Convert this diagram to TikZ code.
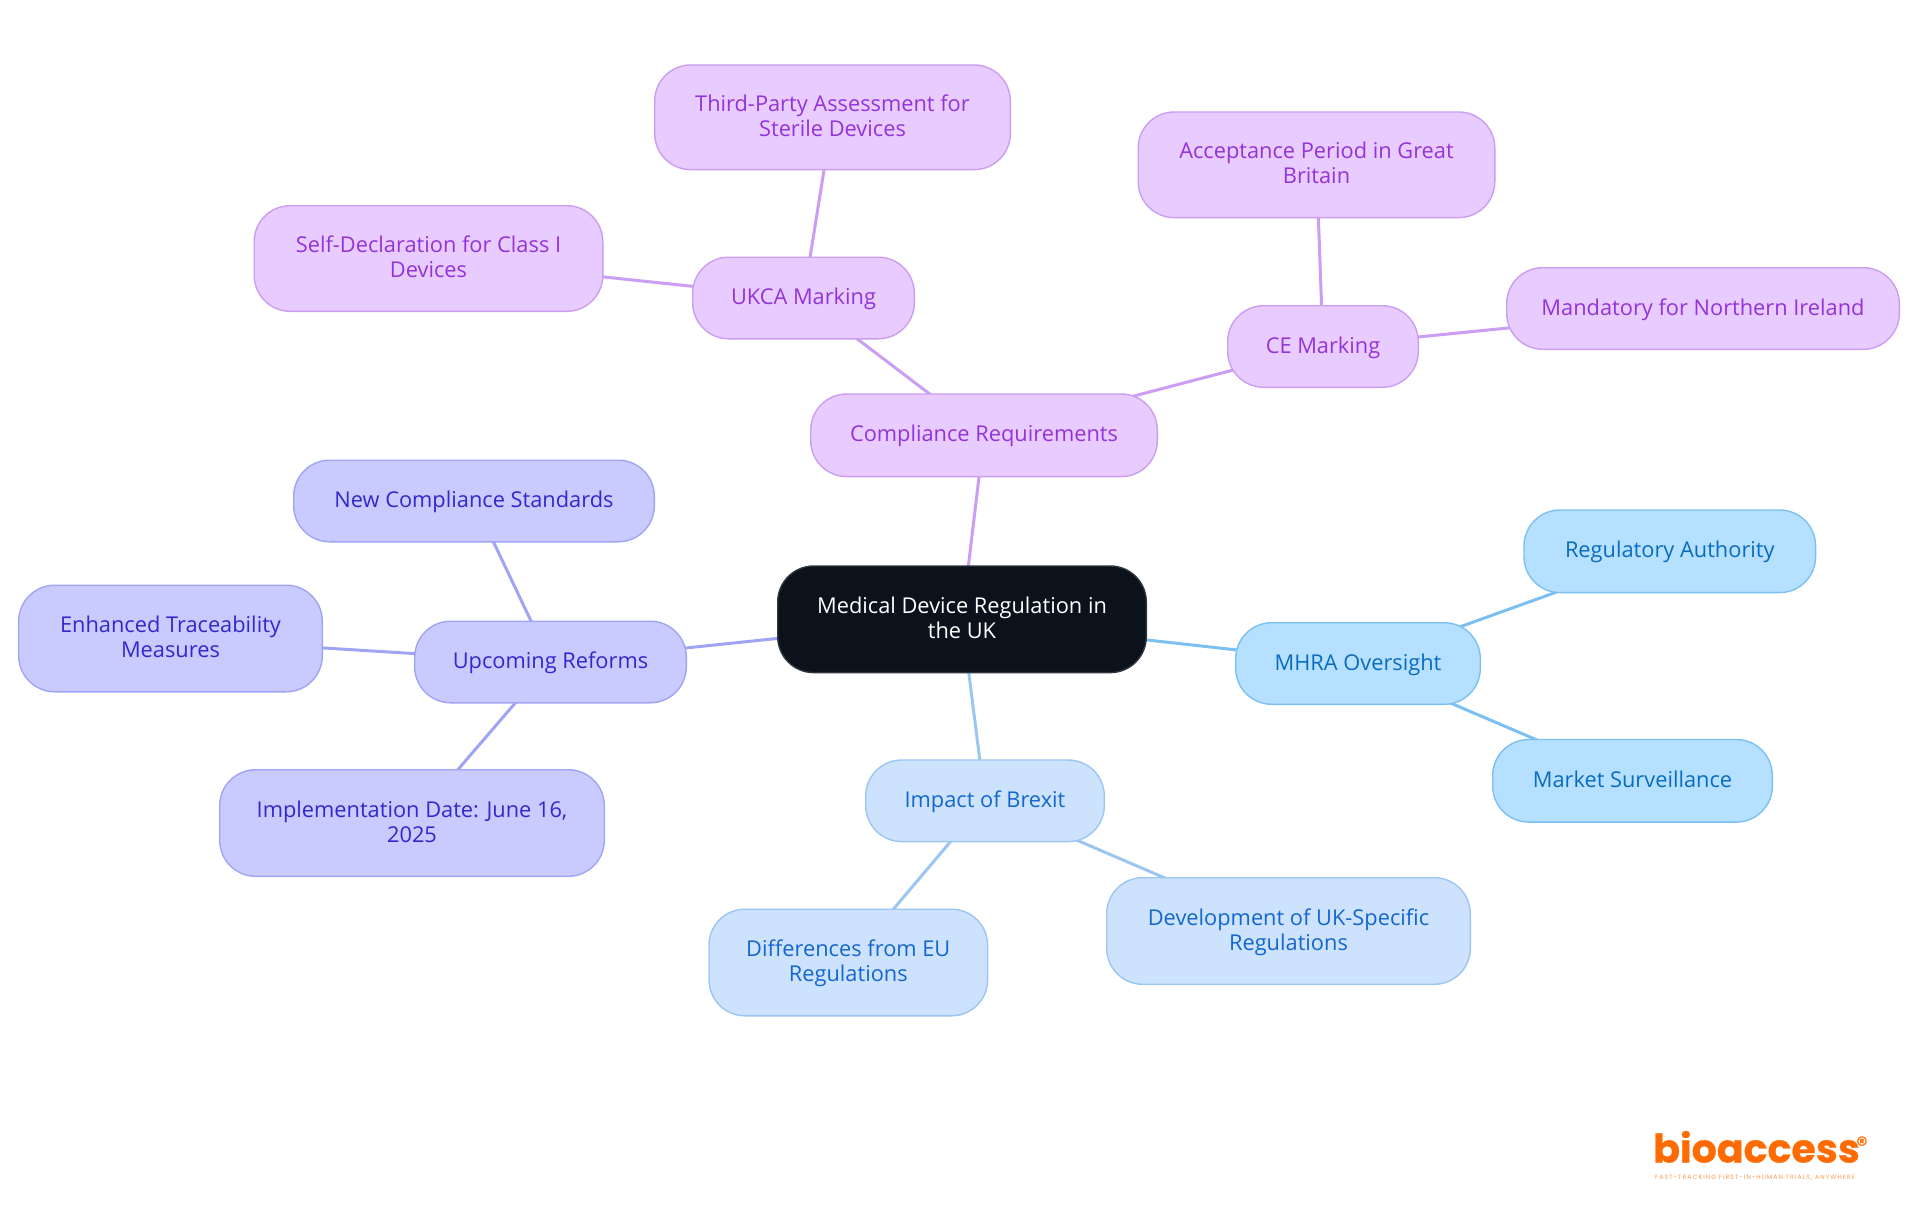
\documentclass[tikz,border=0pt]{standalone}
\usepackage{xcolor}
\usepackage{fontspec}
\usetikzlibrary{positioning,backgrounds}
\setmainfont{Open Sans}
\newfontfamily\logofont{Poppins}

\definecolor{rootfill}{HTML}{0B121B}
\definecolor{purplefill}{HTML}{E8CCFF}
\definecolor{purpleline}{HTML}{CB9DF3}
\definecolor{purpletext}{HTML}{9333D9}
\definecolor{indigofill}{HTML}{C9CBFF}
\definecolor{indigoline}{HTML}{A0A4F5}
\definecolor{indigotext}{HTML}{3228CC}
\definecolor{skyfill}{HTML}{B5E0FF}
\definecolor{skyline}{HTML}{7CC0F3}
\definecolor{skytext}{HTML}{0A6CBE}
\definecolor{bluefill}{HTML}{CDE3FD}
\definecolor{blueline}{HTML}{9CC5F2}
\definecolor{bluetext}{HTML}{1466D0}
\definecolor{logoorange}{HTML}{FF6B00}

% every line of a box gets the same height and depth
\newcommand{\ls}{\rule[-6pt]{0pt}{25pt}}

\tikzset{
  mapnode/.style={draw,rounded corners=36pt,inner sep=0pt,align=center,line width=1.4pt,
    font=\fontsize{21.8}{25}\selectfont},
  rootnode/.style={mapnode,fill=rootfill,draw=rootfill!85!white,text=white},
  purplenode/.style={mapnode,fill=purplefill,draw=purpleline,text=purpletext},
  indigonode/.style={mapnode,fill=indigofill,draw=indigoline,text=indigotext},
  skynode/.style={mapnode,fill=skyfill,draw=skyline,text=skytext},
  bluenode/.style={mapnode,fill=bluefill,draw=blueline,text=bluetext},
  maplink/.style={line width=3pt}
}

\begin{document}
\begin{tikzpicture}[x=1pt,y=-1pt]
  \useasboundingbox (0,0) rectangle (1920,1215);

  % Centre
  \node[rootnode,minimum width=368.6pt,minimum height=106.6pt] (root) at (962,619.3) {\ls Medical Device Regulation in\\\ls the UK};

  % Compliance branch
  \node[purplenode,minimum width=346.6pt,minimum height=82.6pt] (comply) at (984,435.3) {\ls Compliance Requirements};
  \node[purplenode,minimum width=221.6pt,minimum height=81.6pt] (ukca) at (803.5,298) {\ls UKCA Marking};
  \node[purplenode,minimum width=355.6pt,minimum height=104.6pt] (thirdparty) at (832.5,117.3) {\ls Third-Party Assessment for\\\ls Sterile Devices};
  \node[purplenode,minimum width=348.6pt,minimum height=105.6pt] (selfdecl) at (428.5,258.5) {\ls Self-Declaration for Class I\\\ls Devices};
  \node[purplenode,minimum width=190.6pt,minimum height=81.6pt] (ce) at (1323,346.5) {\ls CE Marking};
  \node[purplenode,minimum width=356.6pt,minimum height=105.6pt] (accept) at (1316.5,164.8) {\ls Acceptance Period in Great\\\ls Britain};
  \node[purplenode,minimum width=392.6pt,minimum height=81.6pt] (mandatory) at (1703,308.5) {\ls Mandatory for Northern Ireland};

  % Reforms branch
  \node[indigonode,minimum width=271.6pt,minimum height=81.6pt] (reforms) at (550.5,662) {\ls Upcoming Reforms};
  \node[indigonode,minimum width=360.6pt,minimum height=81.6pt] (newstd) at (474,501) {\ls New Compliance Standards};
  \node[indigonode,minimum width=303.6pt,minimum height=106.6pt] (trace) at (170.5,638.5) {\ls Enhanced Traceability\\\ls Measures};
  \node[indigonode,minimum width=384.6pt,minimum height=106.6pt] (impl) at (412,823) {\ls Implementation Date: June 16,\\\ls 2025};

  % MHRA branch
  \node[skynode,minimum width=244.6pt,minimum height=81.6pt] (mhra) at (1358,663.5) {\ls MHRA Oversight};
  \node[skynode,minimum width=291.6pt,minimum height=82.6pt] (authority) at (1669.8,551.3) {\ls Regulatory Authority};
  \node[skynode,minimum width=279.6pt,minimum height=82.6pt] (market) at (1632.5,780.8) {\ls Market Surveillance};

  % Brexit branch
  \node[bluenode,minimum width=238.6pt,minimum height=81.6pt] (brexit) at (985,800.8) {\ls Impact of Brexit};
  \node[bluenode,minimum width=278.6pt,minimum height=106.6pt] (diff) at (848.3,962.5) {\ls Differences from EU\\\ls Regulations};
  \node[bluenode,minimum width=363.6pt,minimum height=106.6pt] (dev) at (1288.5,931) {\ls Development of UK-Specific\\\ls Regulations};

  % Links run behind the boxes
  \begin{scope}[on background layer]
    \draw[maplink,purpleline] (root.center) -- (comply.center);
    \draw[maplink,purpleline] (comply.center) -- (ukca.center);
    \draw[maplink,purpleline] (comply.center) -- (ce.center);
    \draw[maplink,purpleline] (ukca.center) -- (thirdparty.center);
    \draw[maplink,purpleline] (ukca.center) -- (selfdecl.center);
    \draw[maplink,purpleline] (ce.center) -- (accept.center);
    \draw[maplink,purpleline] (ce.center) -- (mandatory.center);
    \draw[maplink,indigoline] (root.center) -- (reforms.center);
    \draw[maplink,indigoline] (reforms.center) -- (newstd.center);
    \draw[maplink,indigoline] (reforms.center) -- (trace.center);
    \draw[maplink,indigoline] (reforms.center) -- (impl.center);
    \draw[maplink,skyline] (root.center) -- (mhra.center);
    \draw[maplink,skyline] (mhra.center) -- (authority.center);
    \draw[maplink,skyline] (mhra.center) -- (market.center);
    \draw[maplink,blueline] (root.center) -- (brexit.center);
    \draw[maplink,blueline] (brexit.center) -- (diff.center);
    \draw[maplink,blueline] (brexit.center) -- (dev.center);
  \end{scope}

  % Logo
  \node[inner sep=0pt,anchor=base west,text=logoorange,font=\logofont\bfseries\fontsize{39.5}{40}\selectfont] (logo) at (1653,1162.5) {\addfontfeatures{FakeBold=0.5}bioaccess};
  \node[inner sep=0pt,text=logoorange,font=\logofont\bfseries\fontsize{22}{22}\selectfont] (logomark) at (1862,1145) {®};
  \node[inner sep=0pt,text=logoorange!70!white,font=\logofont\fontsize{6.2}{7}\selectfont,anchor=base west] (tagline) at (1655,1179) {\addfontfeatures{LetterSpace=17}FAST-TRACKING FIRST-IN-HUMAN TRIALS, ANYWHERE};
\end{tikzpicture}
\end{document}
